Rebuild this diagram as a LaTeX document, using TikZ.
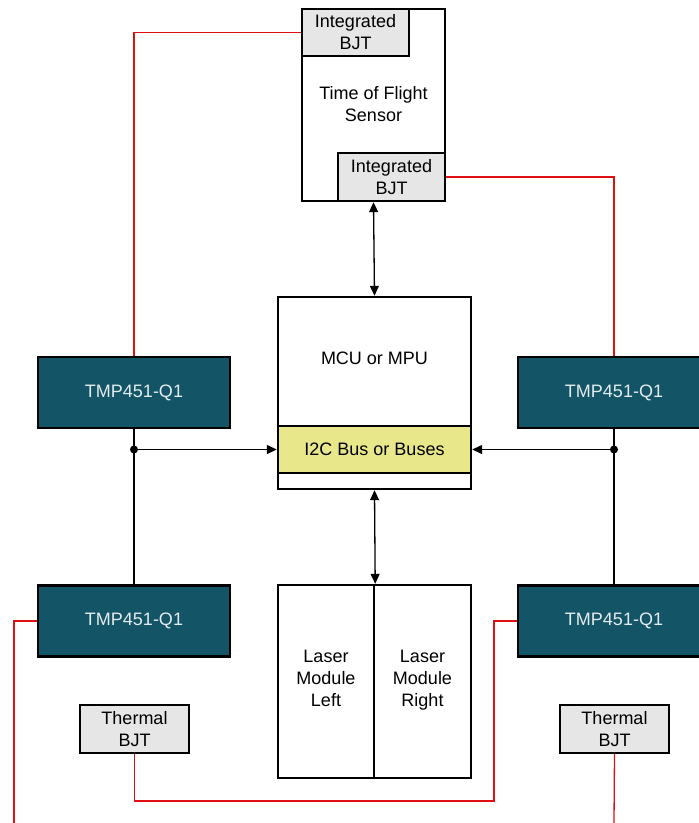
\documentclass[tikz,border=0pt]{standalone}
\usepackage{fontspec}
\setmainfont{Liberation Sans}
\usetikzlibrary{positioning,arrows.meta}
\usepackage{xcolor}
\definecolor{tmpteal}{RGB}{19,84,102}
\definecolor{tmptext}{RGB}{228,236,238}
\definecolor{bjtgray}{RGB}{230,230,230}
\definecolor{busyellow}{RGB}{232,232,138}
\definecolor{wirered}{RGB}{224,16,16}

\begin{document}
\begin{tikzpicture}[
  x=1pt, y=-1pt,
  box/.style={
    rectangle, draw=black, line width=2.4pt, fill=white,
    align=center, font=\fontsize{18}{22}\selectfont, inner sep=0pt
  },
  tmp/.style={
    box, fill=tmpteal, text=tmptext, minimum width=192pt, minimum height=71pt
  },
  bjt/.style={
    box, fill=bjtgray, minimum width=107pt, minimum height=47pt
  },
  txt/.style={align=center, font=\fontsize{18}{22}\selectfont, inner sep=0pt},
  arr/.style={-{Triangle[length=10pt,width=9pt]}, line width=1.3pt},
  dbl/.style={{Triangle[length=10pt,width=9pt]}-{Triangle[length=10pt,width=9pt]}, line width=1.3pt},
  wire/.style={draw=wirered, line width=1.3pt}
]
\fill[white] (0,0) rectangle (699,823);
\useasboundingbox (0,0) rectangle (699,823);
\clip (0,0) rectangle (699,823);

% time of flight sensor
\node[box, minimum width=143pt, minimum height=192pt] (tof) at (373.5,105) {};
\node[txt] (toftext) at (373.5,104) {Time of Flight\\Sensor};
\node[bjt] (bjtA) at (355.5,32.5) {Integrated\\BJT};
\node[bjt, minimum height=48pt] (bjtB) at (391.5,177) {Integrated\\BJT};

% mcu
\node[box, minimum width=193pt, minimum height=192pt] (mcu) at (374.5,393) {};
\node[txt] (mcutext) at (374.5,358) {MCU or MPU};
\node[box, fill=busyellow, minimum width=193pt, minimum height=47pt] (i2c) at (374.5,449.5) {I2C Bus or Buses};

% laser modules
\node[box, minimum width=96pt, minimum height=193pt] (laserL) at (326,681.5) {Laser\\Module\\Left\strut};
\node[box, minimum width=97pt, minimum height=193pt] (laserR) at (422.5,681.5) {Laser\\Module\\Right\strut};

% temperature sensors
\node[tmp] (tmpA) at (134,392.5) {TMP451-Q1};
\node[tmp] (tmpB) at (614,392.5) {TMP451-Q1};
\node[tmp] (tmpC) at (134,621) {TMP451-Q1};
\node[tmp] (tmpD) at (614,621) {TMP451-Q1};
\node[bjt, minimum width=109pt, minimum height=48pt] (thermA) at (134.5,729) {Thermal\\BJT};
\node[bjt, minimum width=109pt, minimum height=48pt] (thermB) at (614.5,729) {Thermal\\BJT};

% bus connections
\coordinate (dotA) at (tmpA.south |- i2c.west);
\coordinate (dotB) at (tmpB.south |- i2c.east);
\draw[line width=1.3pt] (tmpA.south) -- (tmpC.north);
\draw[line width=1.3pt] (tmpB.south) -- (tmpD.north);
\fill (dotA) circle (4pt);
\fill (dotB) circle (4pt);
\draw[arr] (dotA) -- (i2c.west);
\draw[arr] (dotB) -- (i2c.east);
\draw[dbl] (tof.south) -- (mcu.north);
\draw[dbl] (mcu.south) -- (laserL.north east);

% remote diode wires
\coordinate (endA) at (14,823);
\coordinate (endB) at (614,823);
\coordinate (jog) at (494,801);
\draw[wire] (bjtA.west) -| (tmpA.north);
\draw[wire] (bjtB.east) -| (tmpB.north);
\draw[wire] (tmpC.west) -| (endA);
\draw[wire] (thermA.south) |- (jog) |- (tmpD.west);
\draw[wire] (thermB.south) -- (endB);

\end{tikzpicture}
\end{document}
